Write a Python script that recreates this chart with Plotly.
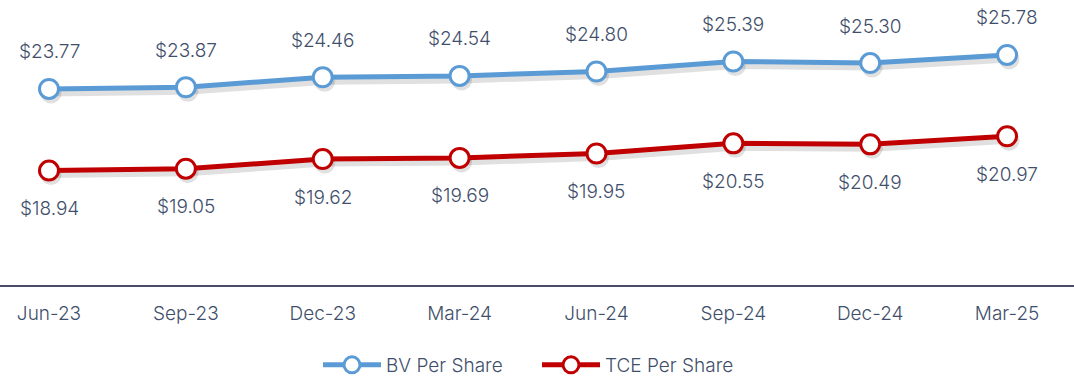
import plotly.graph_objects as go

quarters = ["Jun-23", "Sep-23", "Dec-23", "Mar-24", "Jun-24", "Sep-24", "Dec-24", "Mar-25"]
bv_per_share = [23.77, 23.87, 24.46, 24.54, 24.80, 25.39, 25.30, 25.78]
tce_per_share = [18.94, 19.05, 19.62, 19.69, 19.95, 20.55, 20.49, 20.97]

BLUE = "#5B9BD5"
RED = "#C00000"
TEXT = "#3F4F6B"
FONT = "Inter"

W, H = 1074, 378
PLOT_BOTTOM = 93
X_RANGE = [-0.358, 7.489]
Y_RANGE = [12.17, 29.03]

# soft drop shadow: same series on the base axes, nudged a few pixels down/right
px_per_x = W / (X_RANGE[1] - X_RANGE[0])
px_per_y = (H - PLOT_BOTTOM) / (Y_RANGE[1] - Y_RANGE[0])
dx, dy = 2 / px_per_x, 4 / px_per_y
XS_RANGE = [X_RANGE[0] - dx, X_RANGE[1] - dx]
YS_RANGE = [Y_RANGE[0] + dy, Y_RANGE[1] + dy]

xs = list(range(len(quarters)))
fig = go.Figure()

for vals in (bv_per_share, tce_per_share):
    fig.add_trace(go.Scatter(
        x=xs, y=vals, mode="lines+markers",
        xaxis="x", yaxis="y", showlegend=False, hoverinfo="skip",
        line=dict(color="rgba(0,0,0,0.12)", width=7),
        marker=dict(size=21, color="rgba(0,0,0,0.12)", line=dict(width=0)),
    ))

for name, vals, color in (("BV Per Share", bv_per_share, BLUE),
                          ("TCE Per Share", tce_per_share, RED)):
    fig.add_trace(go.Scatter(
        x=xs, y=vals, name=name, mode="lines+markers",
        xaxis="x2", yaxis="y2",
        line=dict(color=color, width=5),
        marker=dict(size=19, color="white", line=dict(color=color, width=3)),
    ))

label_font = dict(size=19, color=TEXT, family=FONT, weight=300)
for i, v in enumerate(bv_per_share):
    fig.add_annotation(x=i, y=v, xref="x2", yref="y2", text=f"${v:.2f}",
                       showarrow=False, yshift=37, font=label_font)
for i, v in enumerate(tce_per_share):
    fig.add_annotation(x=i, y=v, xref="x2", yref="y2", text=f"${v:.2f}",
                       showarrow=False, yshift=-38, font=label_font)

fig.update_layout(
    width=W, height=H,
    margin=dict(l=0, r=0, t=0, b=PLOT_BOTTOM),
    paper_bgcolor="white", plot_bgcolor="white",
    font=dict(family=FONT, color=TEXT, size=19),
    xaxis=dict(range=XS_RANGE, visible=False),
    yaxis=dict(range=YS_RANGE, visible=False),
    xaxis2=dict(
        range=X_RANGE, overlaying="x", side="bottom", anchor="y2",
        tickmode="array", tickvals=xs, ticktext=quarters,
        showgrid=False, zeroline=False, showline=True,
        linecolor="#4A4D6A", linewidth=2, ticks="",
        ticklabelstandoff=10,
        tickfont=dict(size=19, color=TEXT, family=FONT, weight=300),
    ),
    yaxis2=dict(range=Y_RANGE, overlaying="y", visible=False),
    legend=dict(
        orientation="h", x=0.5, xanchor="center",
        yref="container", y=1 - 365 / H, yanchor="middle",
        font=dict(size=19, color=TEXT, family=FONT, weight=300),
        itemwidth=58, tracegroupgap=0,
        entrywidth=146, entrywidthmode="pixels",
    ),
    showlegend=True,
)

fig.write_html("out.html")
